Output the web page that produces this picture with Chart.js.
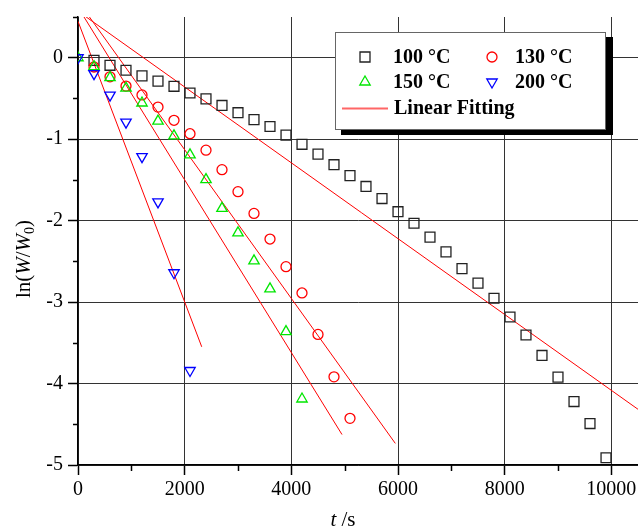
<!DOCTYPE html>
<html lang="en">
<head>
    <meta charset="UTF-8">
    <title>ln(W/W0) vs t</title>
    <script src="https://cdn.jsdelivr.net/npm/chart.js"></script>
    <style>
        body { margin: 0; overflow: hidden; background: #fff; }
    </style>
</head>
<body>
<canvas id="chart" width="638" height="530"></canvas>
<script>
    // measured points, t in seconds
    const t100 = [300, 600, 900, 1200, 1500, 1800, 2100, 2400, 2700, 3000, 3300, 3600, 3900, 4200, 4500, 4800,
        5100, 5400, 5700, 6000, 6300, 6600, 6900, 7200, 7500, 7800, 8100, 8400, 8700, 9000, 9300, 9600, 9900];
    const y100 = [-0.033, -0.093, -0.154, -0.223, -0.287, -0.351, -0.433, -0.505, -0.586, -0.675, -0.760, -0.844,
        -0.950, -1.063, -1.184, -1.313, -1.447, -1.580, -1.729, -1.890, -2.032, -2.202, -2.383, -2.589, -2.767,
        -2.953, -3.183, -3.404, -3.655, -3.921, -4.221, -4.491, -4.911];

    const t130 = [300, 600, 900, 1200, 1500, 1800, 2100, 2400, 2700, 3000, 3300, 3600, 3900, 4200, 4500, 4800, 5100];
    const y130 = [-0.114, -0.235, -0.348, -0.457, -0.606, -0.768, -0.933, -1.135, -1.374, -1.644, -1.911, -2.226,
        -2.565, -2.888, -3.397, -3.918, -4.427];

    const t150 = [0, 300, 600, 900, 1200, 1500, 1800, 2100, 2400, 2700, 3000, 3300, 3600, 3900, 4200];
    const y150 = [0, -0.11, -0.245, -0.374, -0.556, -0.778, -0.959, -1.193, -1.496, -1.85, -2.15, -2.494, -2.837,
        -3.362, -4.19];

    const t200 = [0, 300, 600, 900, 1200, 1500, 1800, 2100];
    const y200 = [0, -0.196, -0.46, -0.79, -1.214, -1.77, -2.64, -3.84];

    // linear fitting lines (end points)
    const fitT100 = [0, 10500], fitY100 = [0.572, -4.316];
    const fitT130 = [0, 5950], fitY130 = [0.696, -4.735];
    const fitT150 = [0, 4950], fitY150 = [0.620, -4.626];
    const fitT200 = [0, 2320], fitY200 = [0.447, -3.549];

    const xMajor = [0, 2000, 4000, 6000, 8000, 10000];
    const xMinor = [1000, 3000, 5000, 7000, 9000];
    const yMajor = [-5, -4, -3, -2, -1, 0];
    const yMinor = [0.5, -0.5, -1.5, -2.5, -3.5, -4.5];

    const legendItems = [
        { label: '100 °C', shape: 'square', color: '#222' },
        { label: '130 °C', shape: 'circle', color: '#ff0000' },
        { label: '150 °C', shape: 'up', color: '#00e600' },
        { label: '200 °C', shape: 'down', color: '#0000ff' }
    ];

    const pts = (xs, ys) => xs.map((x, i) => ({ x: x, y: ys[i] }));
    const serif = 'Liberation Serif, Times New Roman, serif';

    function marker(ctx, shape, x, y) {
        ctx.beginPath();
        if (shape === 'square') {
            ctx.rect(x - 5, y - 5, 10, 10);
        } else if (shape === 'circle') {
            ctx.arc(x, y, 5, 0, Math.PI * 2);
        } else if (shape === 'up') {
            ctx.moveTo(x, y - 6); ctx.lineTo(x + 5.2, y + 3); ctx.lineTo(x - 5.2, y + 3); ctx.closePath();
        } else {
            ctx.moveTo(x, y + 6); ctx.lineTo(x + 5.2, y - 3); ctx.lineTo(x - 5.2, y - 3); ctx.closePath();
        }
        ctx.stroke();
    }

    const overlay = {
        id: 'overlay',
        afterDraw(chart) {
            const ctx = chart.ctx;
            const xs = chart.scales.x, ys = chart.scales.y;
            ctx.save();

            // minor ticks
            ctx.strokeStyle = '#000';
            ctx.lineWidth = 1.5;
            ctx.beginPath();
            xMinor.forEach(v => {
                const px = Math.round(xs.getPixelForValue(v)) + 0.5;
                ctx.moveTo(px, ys.bottom); ctx.lineTo(px, ys.bottom + 6);
            });
            yMinor.forEach(v => {
                const py = Math.round(ys.getPixelForValue(v)) + 0.5;
                ctx.moveTo(xs.left, py); ctx.lineTo(xs.left - 5, py);
            });
            ctx.stroke();

            // x title: t /s
            ctx.fillStyle = '#000';
            ctx.textBaseline = 'middle';
            ctx.textAlign = 'left';
            ctx.font = 'italic 21px ' + serif;
            const wt = ctx.measureText('t').width;
            ctx.font = '21px ' + serif;
            const ws = ctx.measureText(' /s').width;
            let sx = 343 - (wt + ws) / 2;
            ctx.font = 'italic 21px ' + serif;
            ctx.fillText('t', sx, 520);
            ctx.font = '21px ' + serif;
            ctx.fillText(' /s', sx + wt, 520);

            // y title: ln(W/W0)
            const parts = [
                { s: 'ln(', f: '21px ' + serif, dy: 0 },
                { s: 'W', f: 'italic 21px ' + serif, dy: 0 },
                { s: '/', f: '21px ' + serif, dy: 0 },
                { s: 'W', f: 'italic 21px ' + serif, dy: 0 },
                { s: '0', f: '14px ' + serif, dy: 6 },
                { s: ')', f: '21px ' + serif, dy: 0 }
            ];
            let total = 0;
            parts.forEach(p => { ctx.font = p.f; p.w = ctx.measureText(p.s).width; total += p.w; });
            ctx.save();
            ctx.translate(24, 259);
            ctx.rotate(-Math.PI / 2);
            let px = -total / 2;
            parts.forEach(p => { ctx.font = p.f; ctx.fillText(p.s, px, p.dy); px += p.w; });
            ctx.restore();

            // legend box with shadow
            ctx.fillStyle = '#000';
            ctx.fillRect(341, 37, 272, 98);
            ctx.fillStyle = '#fff';
            ctx.fillRect(335, 32, 271, 98);
            ctx.strokeStyle = '#666';
            ctx.lineWidth = 1;
            ctx.strokeRect(335.5, 32.5, 270, 97);

            ctx.lineWidth = 1.3;
            const cells = [[365, 57, 393], [492, 57, 515], [365, 82, 393], [492, 82, 515]];
            legendItems.forEach((it, i) => {
                const c = cells[i];
                ctx.strokeStyle = it.color;
                marker(ctx, it.shape, c[0], c[1]);
                ctx.fillStyle = '#000';
                ctx.font = 'bold 20px ' + serif;
                ctx.fillText(it.label, c[2], c[1] + 1);
            });
            ctx.strokeStyle = 'rgba(255,0,0,0.6)';
            ctx.lineWidth = 2;
            ctx.beginPath();
            ctx.moveTo(342, 108.5); ctx.lineTo(388, 108.5);
            ctx.stroke();
            ctx.fillStyle = '#000';
            ctx.font = 'bold 20px ' + serif;
            ctx.fillText('Linear Fitting', 394, 109);

            ctx.restore();
        }
    };

    const fitStyle = { showLine: true, pointRadius: 0, borderColor: '#ff0000', borderWidth: 1, order: 5 };

    new Chart(document.getElementById('chart').getContext('2d'), {
        type: 'scatter',
        data: {
            datasets: [
                { label: '200 °C', data: pts(t200, y200), pointStyle: 'triangle', rotation: 180, pointRadius: 6,
                  borderColor: '#0000ff', backgroundColor: 'transparent', pointBorderWidth: 1.3, order: 0 },
                { label: '150 °C', data: pts(t150, y150), pointStyle: 'triangle', pointRadius: 6,
                  borderColor: '#00e600', backgroundColor: 'transparent', pointBorderWidth: 1.3, order: 1 },
                { label: '130 °C', data: pts(t130, y130), pointStyle: 'circle', pointRadius: 5,
                  borderColor: '#ff0000', backgroundColor: 'transparent', pointBorderWidth: 1.3, order: 2 },
                { label: '100 °C', data: pts(t100, y100), pointStyle: 'rect', pointRadius: 7,
                  borderColor: '#222', backgroundColor: 'transparent', pointBorderWidth: 1.3, order: 3 },
                Object.assign({ label: 'fit100', data: pts(fitT100, fitY100) }, fitStyle),
                Object.assign({ label: 'fit130', data: pts(fitT130, fitY130) }, fitStyle),
                Object.assign({ label: 'fit150', data: pts(fitT150, fitY150) }, fitStyle),
                Object.assign({ label: 'fit200', data: pts(fitT200, fitY200) }, fitStyle)
            ]
        },
        options: {
            responsive: false,
            animation: false,
            layout: { autoPadding: false, padding: { top: 12, right: 0, bottom: 0, left: 0 } },
            plugins: { legend: { display: false }, tooltip: { enabled: false } },
            scales: {
                x: {
                    type: 'linear', min: 0, max: 10500,
                    afterBuildTicks: s => { s.ticks = xMajor.map(v => ({ value: v })); },
                    afterFit: s => { s.height = 65; s.paddingLeft = 0; s.paddingRight = 0; },
                    ticks: { padding: 3, color: '#000', maxRotation: 0, autoSkip: false,
                             callback: v => String(v), font: { family: serif, size: 20 } },
                    grid: { color: '#333', lineWidth: 1, tickLength: 10, tickColor: '#000', tickWidth: 1.5 },
                    border: { color: '#000', width: 1.5 }
                },
                y: {
                    type: 'linear', min: -5, max: 0.5,
                    afterBuildTicks: s => { s.ticks = yMajor.map(v => ({ value: v })); },
                    afterFit: s => { s.width = 78; },
                    ticks: { padding: 5, color: '#000', callback: v => String(v),
                             font: { family: serif, size: 20 } },
                    grid: { color: '#333', lineWidth: 1, tickLength: 10, tickColor: '#000', tickWidth: 1.5 },
                    border: { color: '#000', width: 1.5 }
                }
            }
        },
        plugins: [overlay]
    });
</script>
</body>
</html>
